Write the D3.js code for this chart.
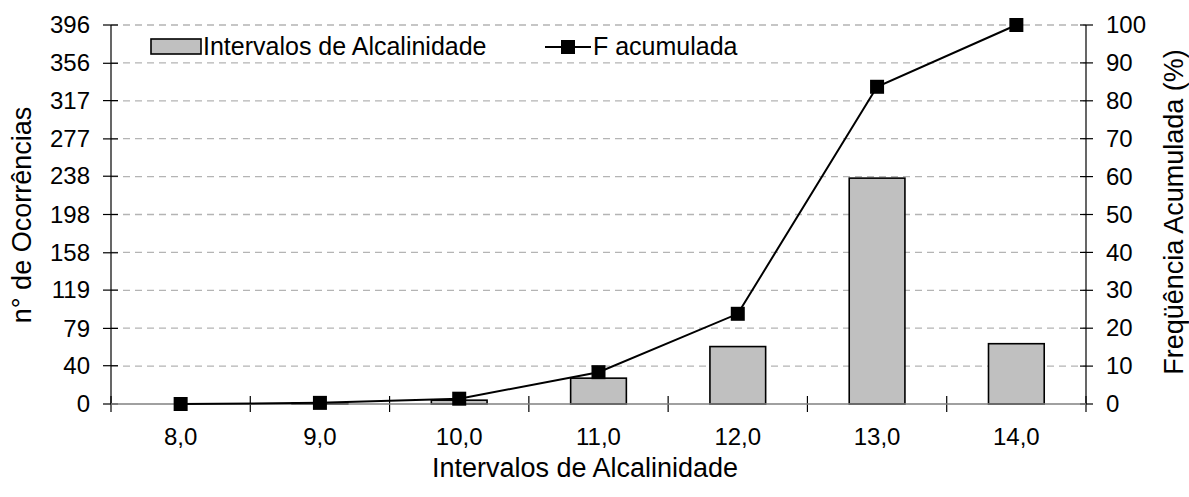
<!DOCTYPE html>
<html>
<head>
<meta charset="utf-8">
<script src="https://cdn.jsdelivr.net/npm/d3@7"></script>
<style>
  body { margin: 0; background: #fff; }
  text { font-family: "Liberation Sans", Arial, sans-serif; fill: #000; }
</style>
</head>
<body>
<div id="chart"></div>
<script>
// data
const categories = ["8,0", "9,0", "10,0", "11,0", "12,0", "13,0", "14,0"];
const occurrences = [0, 1, 4, 27, 60, 236, 63];
const cumulative = [0, 0.3, 1.4, 8.4, 23.8, 83.7, 100];
const leftTicks = [0, 40, 79, 119, 158, 198, 238, 277, 317, 356, 396];
const rightTicks = [0, 10, 20, 30, 40, 50, 60, 70, 80, 90, 100];

const W = 1189, H = 497;
const margin = { left: 111, right: 103, top: 25, bottom: 93 };
const w = W - margin.left - margin.right;
const h = H - margin.top - margin.bottom;
const tickFont = "24px", titleFont = "27px", legendFont = "25px";

var svg = d3.select("#chart").append("svg")
  .attr("width", W).attr("height", H);

var g = svg.append("g")
  .attr("transform", "translate(" + margin.left + "," + margin.top + ")");

// scales
xBand = d3.scaleBand().domain(categories).range([0, w]);
yL = d3.scaleLinear().domain([0, 396]).range([h, 0]);
yR = d3.scaleLinear().domain([0, 100]).range([h, 0]);
const barW = xBand.bandwidth() / 2.5;

// dashed grid lines
g.selectAll(".grid")
  .data(rightTicks.slice(1))
  .enter().append("line")
  .attr("x1", 0).attr("x2", w)
  .attr("y1", d => yR(d)).attr("y2", d => yR(d))
  .style("stroke", "#b4b4b4")
  .style("stroke-width", 1.3)
  .style("stroke-dasharray", "7,5");

// bars
g.selectAll(".bar")
  .data(occurrences)
  .enter().append("rect")
  .attr("x", (d, i) => xBand(categories[i]) + (xBand.bandwidth() - barW) / 2)
  .attr("width", barW)
  .attr("y", d => yL(d))
  .attr("height", d => h - yL(d))
  .style("fill", "#c0c0c0")
  .style("stroke", "#000")
  .style("stroke-width", 1.6);

// axes
var axL = g.append("g")
  .call(d3.axisLeft(yL).tickValues(leftTicks).tickSize(0).tickPadding(21));
var axR = g.append("g")
  .attr("transform", "translate(" + w + ",0)")
  .call(d3.axisRight(yR).tickValues(rightTicks).tickSize(0).tickPadding(20));
var axB = g.append("g")
  .attr("transform", "translate(0," + h + ")")
  .call(d3.axisBottom(xBand).tickSize(0).tickPadding(24));

[axL, axR, axB].forEach(a => {
  a.select(".domain").remove();
  a.selectAll("text").style("font-size", tickFont).style("font-family", "Liberation Sans, Arial, sans-serif");
});

// crossing tick marks (Excel style)
g.selectAll(".tl").data(leftTicks).enter().append("line")
  .attr("x1", -8).attr("x2", 7).attr("y1", d => yL(d)).attr("y2", d => yL(d))
  .style("stroke", "#000").style("stroke-width", 1.2);
g.selectAll(".tr").data(rightTicks).enter().append("line")
  .attr("x1", w - 6).attr("x2", w + 7).attr("y1", d => yR(d)).attr("y2", d => yR(d))
  .style("stroke", "#000").style("stroke-width", 1.2);
g.selectAll(".tb").data(d3.range(categories.length + 1)).enter().append("line")
  .attr("x1", d => d * xBand.step()).attr("x2", d => d * xBand.step())
  .attr("y1", h - 8).attr("y2", h + 8)
  .style("stroke", "#000").style("stroke-width", 1.2);

g.append("line").attr("x1", 0).attr("x2", 0).attr("y1", 0).attr("y2", h)
  .style("stroke", "#000").style("stroke-width", 1.2);
g.append("line").attr("x1", w).attr("x2", w).attr("y1", 0).attr("y2", h)
  .style("stroke", "#000").style("stroke-width", 1.2);
g.append("line").attr("x1", 0).attr("x2", w).attr("y1", h).attr("y2", h)
  .style("stroke", "#808080").style("stroke-width", 1.6);

// cumulative line
var line = d3.line()
  .x((d, i) => xBand(categories[i]) + xBand.bandwidth() / 2)
  .y(d => yR(d));
g.append("path")
  .datum(cumulative)
  .attr("d", line)
  .style("fill", "none")
  .style("stroke", "#000")
  .style("stroke-width", 2);

const sq = 14;
g.selectAll(".mk")
  .data(cumulative)
  .enter().append("rect")
  .attr("x", (d, i) => xBand(categories[i]) + xBand.bandwidth() / 2 - sq / 2)
  .attr("y", d => yR(d) - sq / 2)
  .attr("width", sq).attr("height", sq)
  .style("fill", "#000");

// axis titles
svg.append("text")
  .text("Intervalos de Alcalinidade")
  .attr("x", 585)
  .attr("y", 477)
  .style("font-size", titleFont)
  .style("text-anchor", "middle");

svg.append("text")
  .text("n° de Ocorrências")
  .attr("transform", "translate(31,215) rotate(-90)")
  .style("font-size", titleFont)
  .style("text-anchor", "middle");

svg.append("text")
  .text("Freqüência Acumulada (%)")
  .attr("transform", "translate(1183,212) rotate(-90)")
  .style("font-size", titleFont)
  .style("text-anchor", "middle");

// legend
var lg = svg.append("g");
lg.append("rect")
  .attr("x", 151).attr("y", 39).attr("width", 50).attr("height", 15)
  .style("fill", "#c0c0c0").style("stroke", "#000").style("stroke-width", 1.6);
lg.append("text")
  .text("Intervalos de Alcalinidade")
  .attr("x", 203).attr("y", 55)
  .style("font-size", legendFont);
lg.append("line")
  .attr("x1", 545).attr("x2", 591).attr("y1", 47).attr("y2", 47)
  .style("stroke", "#000").style("stroke-width", 2);
lg.append("rect")
  .attr("x", 568 - sq / 2).attr("y", 47 - sq / 2).attr("width", sq).attr("height", sq)
  .style("fill", "#000");
lg.append("text")
  .text("F acumulada")
  .attr("x", 593).attr("y", 55)
  .style("font-size", legendFont);
</script>
</body>
</html>
